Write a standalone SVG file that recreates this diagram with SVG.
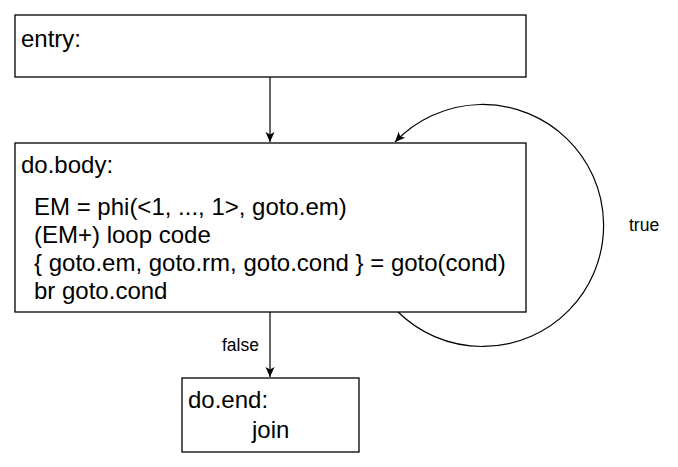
<svg xmlns="http://www.w3.org/2000/svg" width="678" height="467" viewBox="0 0 678 467">
<style>
.box{fill:#fff;stroke:#000;stroke-width:1.3}
.t{font-family:"Liberation Sans",Arial,sans-serif;font-size:24px;fill:#000}
.l{font-family:"Liberation Sans",Arial,sans-serif;font-size:17.5px;fill:#000}
.e{fill:none;stroke:#000;stroke-width:1.2}
</style>
<defs>
<marker id="ah" markerWidth="12" markerHeight="12" refX="10" refY="5.5" orient="auto" markerUnits="userSpaceOnUse">
<path d="M0,1 L10,5.5 L0,10 L2.5,5.5 Z" fill="#000"/>
</marker>
</defs>
<rect width="678" height="467" fill="#fff"/>
<g id="connectors">
<path class="e" d="M270,77 L270,142" marker-end="url(#ah)"/>
<path class="e" d="M270,312 L270,377" marker-end="url(#ah)"/>
<path class="e" d="M397,311 A121,121 0 1 0 395,142" marker-end="url(#ah)" stroke-width="1"/>
<text class="l" x="222" y="351">false</text>
<text class="l" x="629" y="231">true</text>
</g>
<g id="entry">
<rect class="box" x="15" y="15" width="511" height="62"/>
<text class="t" x="21" y="47">entry:</text>
</g>
<g id="do.body">
<rect class="box" x="15" y="143" width="511" height="169"/>
<text class="t" x="21" y="173">do.body:</text>
<text class="t" x="34" y="215">EM = phi(&lt;1, ..., 1&gt;, goto.em)</text>
<text class="t" x="34" y="243">(EM+) loop code</text>
<text class="t" x="34" y="271">{ goto.em, goto.rm, goto.cond } = goto(cond)</text>
<text class="t" x="34" y="299">br goto.cond</text>
</g>
<g id="do.end">
<rect class="box" x="182" y="378" width="177" height="74"/>
<text class="t" x="188" y="408">do.end:</text>
<text class="t" x="252" y="438">join</text>
</g>
</svg>
